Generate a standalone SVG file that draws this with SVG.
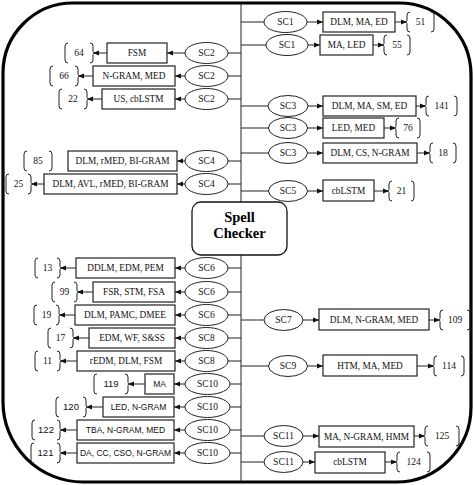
<svg xmlns="http://www.w3.org/2000/svg" width="474" height="485" viewBox="0 0 474 485">
<style>
.bg{fill:#fff}
.frame{fill:#fff;stroke:#000;stroke-width:3.2}
.ln{stroke:#222;stroke-width:1;fill:none}
.ar{stroke:#222;stroke-width:1;fill:none;marker-end:url(#ah)}
.el{fill:#fff;stroke:#222;stroke-width:1}
.bx{fill:#fff;stroke:#222;stroke-width:1.2}
.br{fill:none;stroke:#222;stroke-width:1}
.t{font-family:"Liberation Serif","Times New Roman",serif;font-size:9.3px;fill:#111;text-anchor:middle}
.sc{font-family:"Liberation Serif","Times New Roman",serif;font-size:9.5px;fill:#111;text-anchor:middle}
.n{font-family:"Liberation Serif","Times New Roman",serif;font-size:9.5px;fill:#111;text-anchor:middle}
.s{font-family:"Liberation Sans",Arial,sans-serif;font-size:8.5px;fill:#111;text-anchor:middle}
.sn{font-family:"Liberation Sans",Arial,sans-serif;font-size:9.5px;fill:#111;text-anchor:middle}
.hub{fill:#fff;stroke:#111;stroke-width:1.3}
.ht{font-family:"Liberation Serif","Times New Roman",serif;font-size:14.5px;font-weight:bold;fill:#000;text-anchor:middle}
</style>
<defs>
<marker id="ah" markerUnits="userSpaceOnUse" markerWidth="6" markerHeight="6" refX="6" refY="3" orient="auto">
<path d="M0,0.5 L6,3 L0,5.5 z" fill="#111"/>
</marker>
</defs>
<rect class="bg" x="0" y="0" width="474" height="485"/>
<path class="frame" d="M3,73 A70,70 0 0 1 73,3 L399,3 A72,72 0 0 1 471,75 L471,407 A75,75 0 0 1 396,482 L83,482 A80,80 0 0 1 3,402 Z"/>

<g id="connectors">
<line class="ln" x1="241" y1="3" x2="241" y2="482"/>
<!-- right side -->
<line class="ln" x1="241" y1="22" x2="264" y2="22"/>
<line class="ar" x1="307" y1="22" x2="323" y2="22"/>
<line class="ar" x1="395" y1="22" x2="407" y2="22"/>
<line class="ln" x1="241" y1="45" x2="266" y2="45"/>
<line class="ar" x1="308" y1="45" x2="320" y2="45"/>
<line class="ar" x1="373" y1="45" x2="384" y2="45"/>
<line class="ln" x1="241" y1="106" x2="268" y2="106"/>
<line class="ar" x1="308" y1="106" x2="323" y2="106"/>
<line class="ar" x1="416" y1="106" x2="426" y2="106"/>
<line class="ln" x1="241" y1="128" x2="268.5" y2="128"/>
<line class="ar" x1="307.5" y1="128" x2="323" y2="128"/>
<line class="ar" x1="384" y1="128" x2="396" y2="128"/>
<line class="ln" x1="241" y1="153" x2="268.5" y2="153"/>
<line class="ar" x1="307.5" y1="153" x2="323" y2="153"/>
<line class="ar" x1="417" y1="153" x2="430" y2="153"/>
<line class="ln" x1="241" y1="191" x2="268.5" y2="191"/>
<line class="ar" x1="307.5" y1="191" x2="323" y2="191"/>
<line class="ar" x1="374" y1="191" x2="389" y2="191"/>
<line class="ln" x1="241" y1="320" x2="264" y2="320"/>
<line class="ar" x1="303" y1="320" x2="319" y2="320"/>
<line class="ar" x1="429" y1="320" x2="440" y2="320"/>
<line class="ln" x1="241" y1="366" x2="268.5" y2="366"/>
<line class="ar" x1="307.5" y1="366" x2="323" y2="366"/>
<line class="ar" x1="417" y1="366" x2="434" y2="366"/>
<line class="ln" x1="241" y1="436" x2="264" y2="436"/>
<line class="ar" x1="303" y1="436" x2="319" y2="436"/>
<line class="ar" x1="414" y1="436" x2="425" y2="436"/>
<line class="ln" x1="241" y1="462" x2="264" y2="462"/>
<line class="ar" x1="303" y1="462" x2="315" y2="462"/>
<line class="ar" x1="385" y1="462" x2="397" y2="462"/>
<!-- left side -->
<line class="ln" x1="241" y1="53" x2="228" y2="53"/>
<line class="ar" x1="185" y1="53" x2="167" y2="53"/>
<line class="ar" x1="107" y1="53" x2="93" y2="53"/>
<line class="ln" x1="241" y1="76" x2="228" y2="76"/>
<line class="ar" x1="185" y1="76" x2="175" y2="76"/>
<line class="ar" x1="93" y1="76" x2="78" y2="76"/>
<line class="ln" x1="241" y1="99" x2="228" y2="99"/>
<line class="ar" x1="185" y1="99" x2="175" y2="99"/>
<line class="ar" x1="102" y1="99" x2="87" y2="99"/>
<line class="ln" x1="241" y1="161" x2="228" y2="161"/>
<line class="ar" x1="185" y1="161" x2="177" y2="161"/>
<line class="ln" x1="241" y1="184" x2="228" y2="184"/>
<line class="ar" x1="185" y1="184" x2="177" y2="184"/>
<line class="ar" x1="44" y1="184" x2="31" y2="184"/>
<line class="ln" x1="241" y1="268" x2="228" y2="268"/>
<line class="ar" x1="185" y1="268" x2="175" y2="268"/>
<line class="ar" x1="76" y1="268" x2="60" y2="268"/>
<line class="ln" x1="241" y1="292" x2="228" y2="292"/>
<line class="ar" x1="185" y1="292" x2="175" y2="292"/>
<line class="ar" x1="93" y1="292" x2="77" y2="292"/>
<line class="ln" x1="241" y1="315" x2="228" y2="315"/>
<line class="ar" x1="185" y1="315" x2="175" y2="315"/>
<line class="ar" x1="75" y1="315" x2="59" y2="315"/>
<line class="ln" x1="241" y1="338" x2="228" y2="338"/>
<line class="ar" x1="185" y1="338" x2="175" y2="338"/>
<line class="ar" x1="89" y1="338" x2="73" y2="338"/>
<line class="ln" x1="241" y1="361" x2="228" y2="361"/>
<line class="ar" x1="185" y1="361" x2="175" y2="361"/>
<line class="ar" x1="77" y1="361" x2="60" y2="361"/>
<line class="ln" x1="241" y1="384" x2="230" y2="384"/>
<line class="ar" x1="185" y1="384" x2="174" y2="384"/>
<line class="ar" x1="145" y1="384" x2="128" y2="384"/>
<line class="ln" x1="241" y1="407" x2="230" y2="407"/>
<line class="ar" x1="185" y1="407" x2="174" y2="407"/>
<line class="ar" x1="103" y1="407" x2="86" y2="407"/>
<line class="ln" x1="241" y1="430" x2="230" y2="430"/>
<line class="ar" x1="185" y1="430" x2="174" y2="430"/>
<line class="ar" x1="77" y1="430" x2="60" y2="430"/>
<line class="ln" x1="241" y1="453" x2="230" y2="453"/>
<line class="ar" x1="185" y1="453" x2="174" y2="453"/>
<line class="ar" x1="77" y1="453" x2="60" y2="453"/>
</g>

<g id="hub">
<rect class="hub" x="192" y="202" width="95" height="53" rx="9"/>
<text class="ht" x="239.5" y="222">Spell</text>
<text class="ht" x="239.5" y="238">Checker</text>
</g>

<!-- right side nodes -->
<g id="r1"><ellipse class="el" cx="285.5" cy="22" rx="21.5" ry="10.5"/><text class="sc" x="285.5" y="25.3">SC1</text>
<rect class="bx" x="323" y="12" width="72" height="20"/><text class="t" x="359" y="25.3">DLM, MA, ED</text>
<path class="br" d="M410,12 Q407,12 407,15 L407,20.5 L405.5,22 L407,23.5 L407,29 Q407,32 410,32 M431,12 Q434,12 434,15 L434,29 Q434,32 431,32"/><text class="n" x="420.5" y="25.3">51</text></g>
<g id="r2"><ellipse class="el" cx="287" cy="45" rx="21" ry="10.5"/><text class="sc" x="287" y="48.3">SC1</text>
<rect class="bx" x="320" y="35" width="53" height="20"/><text class="t" x="346.5" y="48.3">MA, LED</text>
<path class="br" d="M387,35 Q384,35 384,38 L384,43.5 L382.5,45 L384,46.5 L384,52 Q384,55 387,55 M407,35 Q410,35 410,38 L410,52 Q410,55 407,55"/><text class="n" x="397" y="48.3">55</text></g>
<g id="r3"><ellipse class="el" cx="288" cy="106" rx="20" ry="10.5"/><text class="sc" x="288" y="109.3">SC3</text>
<rect class="bx" x="323" y="96" width="93" height="20"/><text class="t" x="369.5" y="109.3">DLM, MA, SM, ED</text>
<path class="br" d="M429,96 Q426,96 426,99 L426,104.5 L424.5,106 L426,107.5 L426,113 Q426,116 429,116 M454,96 Q457,96 457,99 L457,113 Q457,116 454,116"/><text class="n" x="441.5" y="109.3">141</text></g>
<g id="r4"><ellipse class="el" cx="288" cy="128" rx="19.5" ry="10.5"/><text class="sc" x="288" y="131.3">SC3</text>
<rect class="bx" x="323" y="118" width="61" height="20"/><text class="t" x="353.5" y="131.3">LED, MED</text>
<path class="br" d="M399,118 Q396,118 396,121 L396,126.5 L394.5,128 L396,129.5 L396,135 Q396,138 399,138 M417,118 Q420,118 420,121 L420,135 Q420,138 417,138"/><text class="n" x="408" y="131.3">76</text></g>
<g id="r5"><ellipse class="el" cx="288" cy="153" rx="19.5" ry="10.5"/><text class="sc" x="288" y="156.3">SC3</text>
<rect class="bx" x="323" y="143" width="94" height="20"/><text class="t" x="370" y="156.3">DLM, CS, N-GRAM</text>
<path class="br" d="M433,143 Q430,143 430,146 L430,151.5 L428.5,153 L430,154.5 L430,160 Q430,163 433,163 M453,143 Q456,143 456,146 L456,160 Q456,163 453,163"/><text class="n" x="443" y="156.3">18</text></g>
<g id="r6"><ellipse class="el" cx="288" cy="191" rx="19.5" ry="10.5"/><text class="sc" x="288" y="194.3">SC5</text>
<rect class="bx" x="323" y="180" width="51" height="21"/><text class="t" x="348.5" y="194">cbLSTM</text>
<path class="br" d="M392,181 Q389,181 389,184 L389,189.5 L387.5,191 L389,192.5 L389,198 Q389,201 392,201 M411,181 Q414,181 414,184 L414,198 Q414,201 411,201"/><text class="n" x="401.5" y="194.3">21</text></g>
<g id="r7"><ellipse class="el" cx="283.5" cy="320" rx="19.5" ry="10.5"/><text class="sc" x="283.5" y="323.3">SC7</text>
<rect class="bx" x="319" y="309" width="110" height="21"/><text class="t" x="374" y="323">DLM, N-GRAM, MED</text>
<path class="br" d="M443,310 Q440,310 440,313 L440,318.5 L438.5,320 L440,321.5 L440,327 Q440,330 443,330 M467,310 Q470,310 470,313 L470,327 Q470,330 467,330"/><text class="n" x="455" y="323.3">109</text></g>
<g id="r8"><ellipse class="el" cx="288" cy="366" rx="19.5" ry="10.5"/><text class="sc" x="288" y="369.3">SC9</text>
<rect class="bx" x="323" y="355" width="94" height="21"/><text class="t" x="370" y="369">HTM, MA, MED</text>
<path class="br" d="M437,356 Q434,356 434,359 L434,364.5 L432.5,366 L434,367.5 L434,373 Q434,376 437,376 M461,356 Q464,356 464,359 L464,373 Q464,376 461,376"/><text class="n" x="449" y="369.3">114</text></g>
<g id="r9"><ellipse class="el" cx="283.5" cy="436" rx="19.5" ry="10.5"/><text class="sc" x="283.5" y="439.3">SC11</text>
<rect class="bx" x="319" y="426" width="95" height="21"/><text class="t" x="366.5" y="439.5">MA, N-GRAM, HMM</text>
<path class="br" d="M428,426 Q425,426 425,429 L425,434.5 L423.5,436 L425,437.5 L425,443 Q425,446 428,446 M456,426 Q459,426 459,429 L459,443 Q459,446 456,446"/><text class="n" x="442" y="439.3">125</text></g>
<g id="r10"><ellipse class="el" cx="283.5" cy="462" rx="19.5" ry="10.5"/><text class="sc" x="283.5" y="465.3">SC11</text>
<rect class="bx" x="315" y="452" width="70" height="21"/><text class="t" x="350" y="465">cbLSTM</text>
<path class="br" d="M400,452 Q397,452 397,455 L397,460.5 L395.5,462 L397,463.5 L397,469 Q397,472 400,472 M427,452 Q430,452 430,455 L430,469 Q430,472 427,472"/><text class="n" x="413.5" y="465.3">124</text></g>

<!-- left side nodes -->
<g id="l1"><ellipse class="el" cx="206.5" cy="53" rx="21.5" ry="10.5"/><text class="sc" x="206.5" y="56.3">SC2</text>
<rect class="bx" x="107" y="43" width="60" height="20"/><text class="t" x="137" y="56.3">FSM</text>
<path class="br" d="M68,43 Q65,43 65,46 L65,60 Q65,63 68,63 M90,43 Q93,43 93,46 L93,51.5 L94.5,53 L93,54.5 L93,60 Q93,63 90,63"/><text class="n" x="79" y="56.3">64</text></g>
<g id="l2"><ellipse class="el" cx="206.5" cy="76" rx="21.5" ry="10.5"/><text class="sc" x="206.5" y="79.3">SC2</text>
<rect class="bx" x="93" y="66" width="82" height="20"/><text class="t" x="134" y="79.3">N-GRAM, MED</text>
<path class="br" d="M53,66 Q50,66 50,69 L50,83 Q50,86 53,86 M75,66 Q78,66 78,69 L78,74.5 L79.5,76 L78,77.5 L78,83 Q78,86 75,86"/><text class="n" x="64" y="79.3">66</text></g>
<g id="l3"><ellipse class="el" cx="206.5" cy="99" rx="21.5" ry="10.5"/><text class="sc" x="206.5" y="102.3">SC2</text>
<rect class="bx" x="102" y="89" width="73" height="20"/><text class="t" x="138.5" y="102.3">US, cbLSTM</text>
<path class="br" d="M62,89 Q59,89 59,92 L59,106 Q59,109 62,109 M84,89 Q87,89 87,92 L87,97.5 L88.5,99 L87,100.5 L87,106 Q87,109 84,109"/><text class="n" x="73" y="102.3">22</text></g>
<g id="l4"><ellipse class="el" cx="206.5" cy="161" rx="21.5" ry="10.5"/><text class="sc" x="206.5" y="164.3">SC4</text>
<rect class="bx" x="68" y="151" width="109" height="20"/><text class="t" x="122.5" y="164.3">DLM, rMED, BI-GRAM</text>
<path class="br" d="M27,151 Q24,151 24,154 L24,168 Q24,171 27,171 M49,151 Q52,151 52,154 L52,168 Q52,171 49,171"/><text class="n" x="38" y="164.3">85</text></g>
<g id="l5"><ellipse class="el" cx="206.5" cy="184" rx="21.5" ry="10.5"/><text class="sc" x="206.5" y="187.3">SC4</text>
<rect class="bx" x="44" y="174" width="133" height="20"/><text class="t" x="110.5" y="187.3">DLM, AVL, rMED, BI-GRAM</text>
<path class="br" d="M9,174 Q6,174 6,177 L6,191 Q6,194 9,194 M28,174 Q31,174 31,177 L31,182.5 L32.5,184 L31,185.5 L31,191 Q31,194 28,194"/><text class="n" x="18.5" y="187.3">25</text></g>
<g id="l6"><ellipse class="el" cx="206.5" cy="268" rx="21.5" ry="10.5"/><text class="sc" x="206.5" y="271.3">SC6</text>
<rect class="bx" x="76" y="258" width="99" height="20"/><text class="t" x="125.5" y="271.3">DDLM, EDM, PEM</text>
<path class="br" d="M38,258 Q35,258 35,261 L35,275 Q35,278 38,278 M57,258 Q60,258 60,261 L60,266.5 L61.5,268 L60,269.5 L60,275 Q60,278 57,278"/><text class="n" x="47.5" y="271.3">13</text></g>
<g id="l7"><ellipse class="el" cx="206.5" cy="292" rx="21.5" ry="10.5"/><text class="sc" x="206.5" y="295.3">SC6</text>
<rect class="bx" x="93" y="282" width="82" height="20"/><text class="t" x="134" y="295.3">FSR, STM, FSA</text>
<path class="br" d="M55,282 Q52,282 52,285 L52,299 Q52,302 55,302 M74,282 Q77,282 77,285 L77,290.5 L78.5,292 L77,293.5 L77,299 Q77,302 74,302"/><text class="n" x="64.5" y="295.3">99</text></g>
<g id="l8"><ellipse class="el" cx="206.5" cy="315" rx="21.5" ry="10.5"/><text class="sc" x="206.5" y="318.3">SC6</text>
<rect class="bx" x="75" y="305" width="100" height="20"/><text class="t" x="125" y="318.3">DLM, PAMC, DMEE</text>
<path class="br" d="M37,305 Q34,305 34,308 L34,322 Q34,325 37,325 M56,305 Q59,305 59,308 L59,313.5 L60.5,315 L59,316.5 L59,322 Q59,325 56,325"/><text class="n" x="46.5" y="318.3">19</text></g>
<g id="l9"><ellipse class="el" cx="206.5" cy="338" rx="21.5" ry="10.5"/><text class="sc" x="206.5" y="341.3">SC8</text>
<rect class="bx" x="89" y="328" width="86" height="20"/><text class="t" x="132" y="341.3">EDM, WF, S&amp;SS</text>
<path class="br" d="M51,328 Q48,328 48,331 L48,345 Q48,348 51,348 M70,328 Q73,328 73,331 L73,336.5 L74.5,338 L73,339.5 L73,345 Q73,348 70,348"/><text class="n" x="60.5" y="341.3">17</text></g>
<g id="l10"><ellipse class="el" cx="206.5" cy="361" rx="21.5" ry="10.5"/><text class="sc" x="206.5" y="364.3">SC8</text>
<rect class="bx" x="77" y="351" width="98" height="20"/><text class="t" x="126" y="364.3">rEDM, DLM, FSM</text>
<path class="br" d="M38,351 Q35,351 35,354 L35,368 Q35,371 38,371 M57,351 Q60,351 60,354 L60,359.5 L61.5,361 L60,362.5 L60,368 Q60,371 57,371"/><text class="n" x="47.5" y="364.3">11</text></g>
<g id="l11"><ellipse class="el" cx="207.5" cy="384" rx="22.5" ry="10.5"/><text class="sc" x="207.5" y="387.3">SC10</text>
<rect class="bx" x="145" y="374" width="29" height="20"/><text class="s" x="159.5" y="387">MA</text>
<path class="br" d="M97,374 Q94,374 94,377 L94,391 Q94,394 97,394 M125,374 Q128,374 128,377 L128,382.5 L129.5,384 L128,385.5 L128,391 Q128,394 125,394"/><text class="sn" x="111" y="387.3">119</text></g>
<g id="l12"><ellipse class="el" cx="207.5" cy="407" rx="22.5" ry="10.5"/><text class="sc" x="207.5" y="410.3">SC10</text>
<rect class="bx" x="103" y="397" width="71" height="20"/><text class="s" x="138.5" y="410">LED, N-GRAM</text>
<path class="br" d="M59,397 Q56,397 56,400 L56,414 Q56,417 59,417 M83,397 Q86,397 86,400 L86,405.5 L87.5,407 L86,408.5 L86,414 Q86,417 83,417"/><text class="sn" x="71" y="410.3">120</text></g>
<g id="l13"><ellipse class="el" cx="207.5" cy="430" rx="22.5" ry="10.5"/><text class="sc" x="207.5" y="433.3">SC10</text>
<rect class="bx" x="77" y="420" width="97" height="20"/><text class="s" x="125.5" y="433">TBA, N-GRAM, MED</text>
<path class="br" d="M35,420 Q32,420 32,423 L32,437 Q32,440 35,440 M57,420 Q60,420 60,423 L60,428.5 L61.5,430 L60,431.5 L60,437 Q60,440 57,440"/><text class="sn" x="46" y="433.3">122</text></g>
<g id="l14"><ellipse class="el" cx="207.5" cy="453" rx="22.5" ry="10.5"/><text class="sc" x="207.5" y="456.3">SC10</text>
<rect class="bx" x="77" y="443" width="97" height="20"/><text class="s" x="125.5" y="456">DA, CC, CSO, N-GRAM</text>
<path class="br" d="M34,443 Q31,443 31,446 L31,460 Q31,463 34,463 M57,443 Q60,443 60,446 L60,451.5 L61.5,453 L60,454.5 L60,460 Q60,463 57,463"/><text class="sn" x="45.5" y="456.3">121</text></g>
</svg>
